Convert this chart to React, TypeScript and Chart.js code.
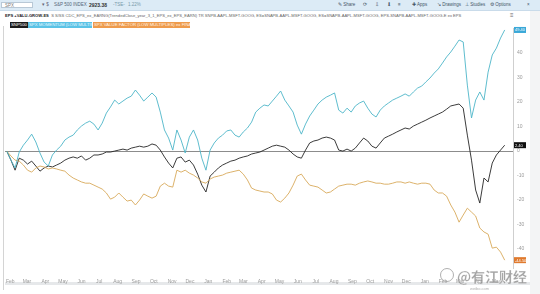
import React, { useEffect, useRef } from "react";
import { Chart, registerables } from "chart.js";
Chart.register(...registerables);

// weekly observations starting 26 Jan 2018 (x = days since start)
const growthValues = [
  0, -3.7, -6.9, -0.4, 2.4, 4.5, 6.9, 3.7, -0.8, -4.5, -6.1, -1.6, 0.4, 2.0, 4.5, 5.7, 6.5, 8.6, 10.2, 11.4,
  12.2, 11.0, 8.6, 11.4, 15.5, 18.0, 20.8, 19.2, 20.4, 21.6, 22.4, 24.9, 22.8, 20.4, 22.0, 23.7, 22.0, 15.9, 8.6, 5.3,
  0.4, 8.6, 4.5, -0.8, 5.7, 8.6, 4.5, -2.9, -7.8, 0.4, 3.3, 5.3, 6.5, 8.2, 8.6, 6.5, 5.7, 7.8, 9.4, 11.8,
  15.9, 17.5, 18.8, 18.4, 20.4, 22.4, 24.5, 20.8, 18.4, 15.9, 10.6, 6.9, 11.0, 14.3, 16.7, 19.2, 20.8, 22.0, 22.8, 23.7,
  16.7, 15.5, 17.5, 15.9, 18.4, 19.6, 20.4, 17.5, 15.1, 13.9, 16.7, 18.4, 19.6, 20.8, 21.6, 22.4, 23.3, 22.4, 24.1, 25.7,
  26.5, 28.2, 29.8, 31.8, 33.5, 35.9, 38.4, 40.4, 42.8, 45.3, 44.5, 26.9, 13.5, 20.8, 24.1, 20.8, 32.2, 39.2, 42.0, 46.1,
  49.4,
];
const spxValues = [
  0, -3.7, -7.8, -2.9, -3.7, -5.3, -4.1, -6.1, -8.2, -6.9, -6.1, -6.5, -5.7, -4.9, -3.7, -2.9, -2.4, -2.9, -2.0, -3.7,
  -2.9, -1.6, -1.6, -1.2, -0.4, -0.4, 0, 0.4, 0.8, 0.4, 1.2, 1.6, 2.0, 1.6, 2.0, 2.9, 2.4, 0.4, -2.4, -4.9,
  -6.9, -2.9, -2.4, -4.5, -3.7, -5.7, -9.4, -13.9, -16.7, -10.2, -8.6, -6.9, -5.7, -4.9, -4.1, -3.7, -2.9, -2.4, -2.0, -1.2,
  -0.8, -0.4, 0.4, 1.2, 2.0, 2.4, 2.0, 1.6, 0.4, -1.2, -2.4, -2.9, 0.4, 3.3, 4.1, 4.5, 5.3, 5.7, 5.3, 4.5,
  0.4, 0, 0.8, 0, 1.2, 3.3, 5.3, 4.1, 2.0, 1.2, 3.3, 5.3, 6.1, 6.9, 7.8, 8.6, 9.4, 9.0, 10.2, 11.0,
  11.8, 12.6, 13.5, 14.3, 15.1, 15.9, 17.1, 18.4, 18.8, 19.2, 17.5, 6.5, -3.7, -15.9, -21.2, -11.0, -12.6, -4.9, -1.6, 0.4,
  2.4,
];
const valueValues = [
  0, -2.0, -3.7, -4.1, -5.7, -7.8, -8.6, -6.9, -6.1, -6.5, -7.3, -6.9, -7.3, -7.8, -8.2, -9.8, -11.0, -11.8, -12.6, -13.1,
  -13.1, -13.9, -14.7, -15.5, -17.1, -19.6, -18.8, -17.1, -18.8, -20.4, -20.0, -22.0, -20.0, -17.5, -18.4, -19.2, -18.4, -14.3, -13.1, -14.3,
  -14.7, -7.8, -8.6, -7.8, -9.0, -9.8, -11.0, -12.6, -13.1, -11.4, -10.6, -10.2, -9.8, -9.0, -8.6, -8.2, -7.8, -9.4, -11.8, -15.1,
  -15.9, -16.3, -16.7, -16.7, -17.5, -20.0, -20.8, -19.2, -17.1, -13.9, -10.2, -9.4, -11.8, -13.9, -14.3, -14.7, -15.9, -17.1, -16.7, -15.5,
  -14.3, -13.9, -13.5, -13.5, -13.9, -13.1, -12.6, -12.2, -12.6, -13.1, -13.1, -13.5, -13.5, -13.1, -12.6, -12.6, -13.1, -12.6, -13.1, -13.5,
  -13.1, -13.1, -13.5, -15.9, -17.1, -17.1, -18.4, -22.0, -24.9, -29.0, -26.1, -23.3, -24.9, -26.5, -31.4, -33.0, -33.9, -39.6, -39.2, -41.2,
  -44.5,
];
const monthTickDays = [6, 34, 65, 95, 126, 156, 187, 218, 248, 279, 309, 340, 371, 399, 430, 460, 491, 521, 552, 583, 613, 644, 674, 705, 736, 765, 796, 826];
const monthTickLabels = ["Feb", "Mar", "Apr", "May", "Jun", "Jul", "Aug", "Sep", "Oct", "Nov", "Dec", "Jan", "Feb", "Mar", "Apr", "May", "Jun", "Jul", "Aug", "Sep", "Oct", "Nov", "Dec", "Jan", "Feb", "Mar", "Apr", "May"];
const yTickValues = [-40, -30, -20, -10, 0, 10, 20, 30, 40];

const BLUE = "#4db5c8";
const BLACK = "#262626";
const ORANGE = "#d8a95a";

const toPts = (arr: number[]) => arr.map((v, i) => ({ x: i * 7, y: v }));

const lastBoxes = {
  id: "lastBoxes",
  afterDatasetsDraw(chart: any) {
    const { ctx, chartArea } = chart;
    const y = chart.scales.y;
    const colors = ["#3aa8d8", "#e07a2e", "#111111"];
    chart.data.datasets.forEach((ds: any, i: number) => {
      const last = ds.data[ds.data.length - 1].y;
      const py = y.getPixelForValue(last);
      ctx.save();
      ctx.fillStyle = colors[i];
      ctx.fillRect(chartArea.right + 1, py - 3, 12, 6);
      ctx.fillStyle = "#fff";
      ctx.font = "4px 'Liberation Sans'";
      ctx.textBaseline = "middle";
      ctx.fillText(last.toFixed(2), chartArea.right + 2, py + 0.3);
      ctx.restore();
    });
    ctx.save();
    ctx.strokeStyle = "#d4d4d4";
    ctx.lineWidth = 1;
    ctx.beginPath();
    ctx.moveTo(chartArea.left - 1.5, chartArea.top - 2);
    ctx.lineTo(chartArea.left - 1.5, 290);
    ctx.stroke();
    ctx.restore();
  },
};

export default function App() {
  const ref = useRef<HTMLCanvasElement>(null);
  useEffect(() => {
    const chart = new Chart(ref.current as HTMLCanvasElement, {
      type: "line",
      data: {
        datasets: [
          { label: "Growth", data: toPts(growthValues), borderColor: BLUE, borderWidth: 0.9, pointRadius: 0, tension: 0 },
          { label: "Value", data: toPts(valueValues), borderColor: ORANGE, borderWidth: 0.9, pointRadius: 0, tension: 0 },
          { label: "SNP500", data: toPts(spxValues), borderColor: BLACK, borderWidth: 0.9, pointRadius: 0, tension: 0 },
        ],
      },
      options: {
        animation: false,
        responsive: false,
        devicePixelRatio: 1,
        layout: { padding: { left: 5, top: 28, right: 0, bottom: 0 } },
        plugins: { legend: { display: false }, tooltip: { enabled: false } },
        scales: {
          x: {
            type: "linear",
            min: -3,
            max: 854,
            grid: { display: false },
            border: { display: false },
            afterBuildTicks: (axis: any) => {
              axis.ticks = monthTickDays.map((v) => ({ value: v }));
            },
            afterFit: (axis: any) => {
              axis.height = 26;
            },
            ticks: {
              autoSkip: false,
              maxRotation: 0,
              padding: 3,
              color: "#9a9a9a",
              font: { size: 5, family: "'Liberation Sans'" },
              callback: (v: any) => {
                const k = monthTickDays.indexOf(Number(v));
                return k >= 0 ? monthTickLabels[k] : "";
              },
            },
          },
          y: {
            position: "right",
            min: -47.7,
            max: 50.2,
            afterBuildTicks: (axis: any) => {
              axis.ticks = yTickValues.map((v) => ({ value: v }));
            },
            afterFit: (axis: any) => {
              axis.width = 27;
            },
            grid: {
              drawTicks: false,
              color: (c: any) => (c.tick && c.tick.value === 0 ? "#8c8c8c" : "rgba(0,0,0,0)"),
            },
            border: { display: true, color: "#cfcfcf" },
            ticks: {
              padding: 4,
              color: "#9a9a9a",
              font: { size: 5, family: "'Liberation Sans'" },
            },
          },
        },
      },
      plugins: [lastBoxes],
    });
    return () => chart.destroy();
  }, []);

  const small: React.CSSProperties = { position: "absolute", fontFamily: "'Liberation Sans', Arial, sans-serif", fontSize: 4.5, lineHeight: "6px", whiteSpace: "nowrap", color: "#555" };

  return (
    <div style={{ position: "fixed", left: 0, top: 0, width: 540, height: 294, background: "#fff", overflow: "hidden" }}>
      {/* toolbar */}
      <div style={{ position: "absolute", left: 0, top: 0, width: 540, height: 10, background: "#dcebf6", borderBottom: "1px solid #c9dbea" }} />
      <div style={{ ...small, left: 1, top: 2, width: 32, height: 6, background: "#fff", border: "1px solid #b8c8d6", color: "#777", paddingLeft: 3, boxSizing: "border-box" }}>SPX</div>
      <div style={{ ...small, left: 42, top: 2, color: "#667" }}>▾ $</div>
      <div style={{ ...small, left: 54, top: 2, color: "#567" }}>S&amp;P 500 INDEX</div>
      <div style={{ ...small, left: 89, top: 2, fontWeight: 700, fontSize: 5, color: "#333" }}>2923.38</div>
      <div style={{ ...small, left: 113, top: 2, color: "#79a" }}>-TSE-</div>
      <div style={{ ...small, left: 128, top: 2, color: "#79a" }}>1.22%</div>
      <div style={{ ...small, left: 338, top: 2, color: "#456" }}>✎ Share</div>
      <div style={{ ...small, left: 363, top: 2, color: "#456" }}>⟳</div>
      <div style={{ ...small, left: 375, top: 2, color: "#456" }}>⇩</div>
      <div style={{ ...small, left: 387, top: 2, color: "#456" }}>⬇</div>
      <div style={{ ...small, left: 398, top: 2, color: "#456" }}>≡</div>
      <div style={{ ...small, left: 412, top: 2, color: "#456" }}>✚ Apps</div>
      <div style={{ ...small, left: 437, top: 2, color: "#456" }}>↘ Drawings</div>
      <div style={{ ...small, left: 465, top: 2, color: "#456" }}>⊥ Studies</div>
      <div style={{ ...small, left: 490, top: 2, color: "#456" }}>⚙ Options</div>
      <div style={{ ...small, left: 527, top: 2, color: "#456" }}>×</div>
      {/* formula line */}
      <div style={{ ...small, left: 5, top: 13, color: "#666", fontSize: 4.1 }}>
        <b style={{ color: "#222" }}>EPS +VALU-GROW-ES</b>&nbsp; S S/SS CDC_EPS_ex_EARNG(TrendedClose_year_3_1_EPS_ex_EPS_EARN) TR SNPB-AAPL-MSFT-GOOG, ES=SNAPB-AAPL-MSFT-GOOG, ES=SNAPB-AAPL-MSFT-GOOG, EPS-SNAPB-AAPL-MSFT-GOOG-E ex EPS
      </div>
      <div style={{ ...small, left: 510, top: 12, color: "#666", fontSize: 6 }}>≡</div>
      {/* legend tags */}
      <div style={{ ...small, left: 10, top: 22, height: 6, background: "#1c1c1c", color: "#fff", padding: "0 1px", fontSize: 4.3 }}>SNP500</div>
      <div style={{ ...small, left: 28, top: 22, width: 64, height: 6, background: "#5bc3e6", color: "#e8f8ff", paddingLeft: 1, fontSize: 4.3, boxSizing: "border-box", overflow: "hidden" }}>SPX MOMENTUM (LOW MULTIPLES) ex</div>
      <div style={{ ...small, left: 93, top: 22, width: 97, height: 6, background: "#ee9b4c", color: "#fff3e6", paddingLeft: 1, fontSize: 4.3, boxSizing: "border-box", overflow: "hidden" }}>SPX VALUE FACTOR (LOW MULTIPLES) ex FINANCE PROPERTY</div>
      {/* right strip */}
      <div style={{ position: "absolute", left: 530, top: 11, width: 10, height: 283, background: "#f3f4f5" }} />
      {/* bottom scrollbar */}
      <div style={{ position: "absolute", left: 5, top: 282, width: 525, height: 3, background: "#e6e8ea" }} />
      <canvas ref={ref} width={540} height={294} style={{ position: "absolute", left: 0, top: 0, width: 540, height: 294 }} />
      {/* watermark */}
      <div style={{ position: "absolute", left: 440, top: 268, width: 14, height: 14, borderRadius: 7, border: "1.5px solid rgba(150,150,150,0.75)", boxSizing: "border-box" }} />
      <div style={{ position: "absolute", left: 457, top: 268, fontFamily: "'Noto Sans CJK SC'", fontSize: 14, lineHeight: "16px", color: "rgba(140,140,140,0.8)", fontWeight: 700, whiteSpace: "nowrap", WebkitTextStroke: "0.3px rgba(255,255,255,0.6)" }}>@有江财经</div>
      <div style={{ ...small, left: 470, top: 286, color: "rgba(140,140,140,0.7)", fontSize: 4 }}>weibo.com</div>
    </div>
  );
}
